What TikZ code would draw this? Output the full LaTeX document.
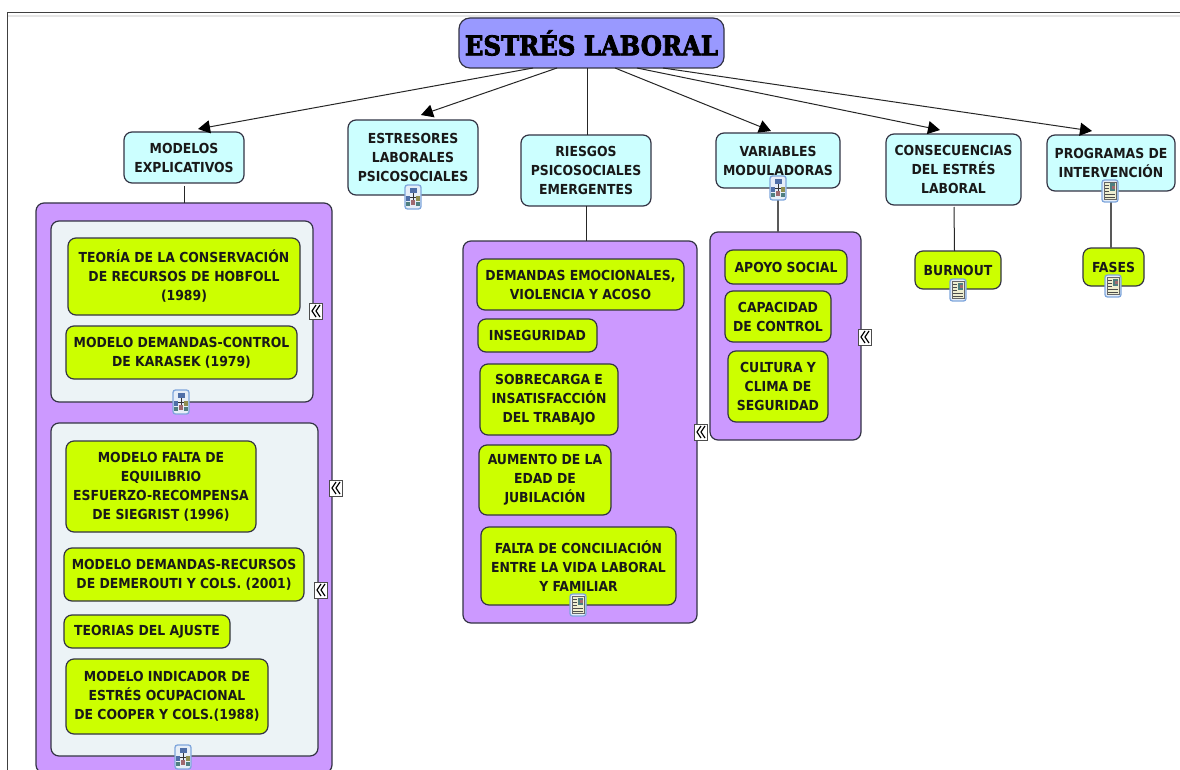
\documentclass[tikz,border=0pt]{standalone}
\usepackage{fontspec}
\setmainfont{DejaVu Sans Condensed}
\newfontfamily\titlefont[FakeBold=3]{DejaVu Serif Condensed Bold}
\usetikzlibrary{arrows.meta}
\definecolor{cgreen}{HTML}{CCFF00}
\definecolor{ccyan}{HTML}{CCFFFF}
\definecolor{cpurple}{HTML}{CC99FF}
\definecolor{ctitle}{HTML}{9999FF}
\definecolor{cgrey}{HTML}{ECF3F6}
\definecolor{cedge}{HTML}{333344}
\definecolor{iconedge}{HTML}{7FA6DC}
\definecolor{iconfill}{HTML}{E6EEF8}
\definecolor{iconblue}{HTML}{4F6FA8}
\definecolor{iconolive}{HTML}{8F8F50}
\definecolor{iconred}{HTML}{A06A70}
\definecolor{iconteal}{HTML}{4F7F80}
\definecolor{docpaper}{HTML}{EEEED0}
\tikzset{
  basebox/.style={draw=cedge,line width=1.2pt,rounded corners=8pt,align=center,inner sep=0pt,outer sep=0pt,
    font=\fontsize{13.8}{19}\selectfont\bfseries,text=black!90},
  topicbox/.style={basebox,fill=ccyan},
  leafbox/.style={basebox,fill=cgreen},
  panelbox/.style={basebox,fill=cpurple},
  greybox/.style={basebox,fill=cgrey},
  mainbox/.style={basebox,fill=ctitle,rounded corners=11pt,font=\fontsize{27}{30}\titlefont,text=black},
  link/.style={draw=black!85,line width=1pt},
  arrowlink/.style={link,-{Triangle[length=12pt,width=13pt,color=black]}},
  softlink/.style={draw=black!65,line width=1.1pt},
  hiericon/.pic={
    \draw[draw=iconedge,fill=iconfill,line width=1.3pt,rounded corners=2.5pt] (-8,-12) rectangle (8,12);
    \draw[black!80,line width=.6pt] (0,-4)--(0,6) (-5,0)--(5,0) (-5,0)--(-5,4) (5,0)--(5,4);
    \fill[iconblue] (-3.5,-9) rectangle (3.5,-4);
    \fill[iconblue] (-7,-1) rectangle (-3,4);
    \fill[iconolive] (3,-1) rectangle (7,4);
    \fill[iconred] (-2,3) rectangle (2,8);
    \fill[iconteal] (-7,5) rectangle (-3,9);
    \fill[iconteal] (3,5) rectangle (7,9);
  },
  docicon/.pic={
    \draw[draw=iconedge,fill=iconfill,line width=1.3pt,rounded corners=2.5pt] (-8,-11) rectangle (8,11);
    \draw[fill=docpaper,draw=black!60,line width=.6pt] (-6,-8.5) rectangle (6,8.5);
    \fill[iconteal] (0,-7.5) rectangle (5,0);
    \fill[iconred] (2,-5) rectangle (5,-2);
    \draw[black!70,line width=.9pt] (-5,-6)--(-1,-6) (-5,-3)--(-1,-3) (-5,0)--(-1,0) (-5,3)--(5,3) (-5,6)--(5,6);
  },
  foldicon/.pic={
    \draw[fill=white,draw=black!70,line width=.9pt] (-6.5,-8) rectangle (6.5,8);
    \draw[black,line width=1.2pt] (0,-6)--(-4,0)--(0,6) (4,-6)--(0,0)--(4,6);
  }
}
\newcommand{\putbox}[7]{% style,name,x0,y0,x1,y1,text
  \pgfmathsetmacro{\cxx}{(#3+#5)/2}\pgfmathsetmacro{\cyy}{(#4+#6)/2}
  \pgfmathsetmacro{\wdd}{#5-#3}\pgfmathsetmacro{\htt}{#6-#4}
  \node[#1,minimum width=\wdd pt,minimum height=\htt pt] (#2) at (\cxx,\cyy) {#7};
}
\begin{document}
\begin{tikzpicture}[x=1pt,y=-1pt]
\useasboundingbox (0,0) rectangle (1180,770);
\begin{scope}
\clip (0,0) rectangle (1180,770);
\fill[white] (0,0) rectangle (1180,770);
\coordinate (frameA) at (7,770);
\coordinate (frameB) at (7,13);
\coordinate (frameC) at (1180,13);
\draw[black!75,line width=1pt] (frameA) -- (frameB) -- (frameC);
\fill[black!10] (8,15) rectangle (1180,17);

\putbox{mainbox}{title}{459}{18}{724}{68}{ESTRÉS LABORAL}
\putbox{topicbox}{mod}{124}{132}{244}{183}{MODELOS\\EXPLICATIVOS}
\putbox{topicbox}{est}{348}{120}{478}{195}{ESTRESORES\\LABORALES\\PSICOSOCIALES}
\putbox{topicbox}{rie}{521}{135}{651}{206}{RIESGOS\\PSICOSOCIALES\\EMERGENTES}
\putbox{topicbox}{var}{716}{133}{840}{188}{VARIABLES\\MODULADORAS}
\putbox{topicbox}{con}{886}{134}{1021}{205}{CONSECUENCIAS\\DEL ESTRÉS\\LABORAL}
\putbox{topicbox}{pro}{1047}{135}{1175}{191}{PROGRAMAS DE\\INTERVENCIÓN}

\putbox{panelbox}{pa}{36}{203}{332}{773}{}
\putbox{panelbox}{pb}{463}{241}{697}{623}{}
\putbox{panelbox}{pc}{710}{232}{861}{440}{}
\putbox{greybox}{ga}{51}{221}{313}{402}{}
\putbox{greybox}{gb}{51}{423}{318}{756}{}

\putbox{leafbox}{a1}{68}{238}{300}{315}{TEORÍA DE LA CONSERVACIÓN\\DE RECURSOS DE HOBFOLL\\(1989)}
\putbox{leafbox}{a2}{66}{326}{297}{379}{MODELO DEMANDAS-CONTROL\\DE KARASEK (1979)}
\putbox{leafbox}{a3}{66}{441}{256}{532}{MODELO FALTA DE\\EQUILIBRIO\\ESFUERZO-RECOMPENSA\\DE SIEGRIST (1996)}
\putbox{leafbox}{a4}{64}{548}{304}{601}{MODELO DEMANDAS-RECURSOS\\DE DEMEROUTI Y COLS. (2001)}
\putbox{leafbox}{a5}{64}{615}{230}{648}{TEORIAS DEL AJUSTE}
\putbox{leafbox}{a6}{66}{659}{268}{734}{MODELO INDICADOR DE\\ESTRÉS OCUPACIONAL\\DE COOPER Y COLS.(1988)}

\putbox{leafbox}{b1}{477}{259}{684}{310}{DEMANDAS EMOCIONALES,\\VIOLENCIA Y ACOSO}
\putbox{leafbox}{b2}{478}{319}{597}{352}{INSEGURIDAD}
\putbox{leafbox}{b3}{480}{364}{618}{435}{SOBRECARGA E\\INSATISFACCIÓN\\DEL TRABAJO}
\putbox{leafbox}{b4}{479}{445}{611}{515}{AUMENTO DE LA\\EDAD DE\\JUBILACIÓN}
\putbox{leafbox}{b5}{481}{527}{676}{605}{FALTA DE CONCILIACIÓN\\ENTRE LA VIDA LABORAL\\Y FAMILIAR}

\putbox{leafbox}{c1}{725}{250}{847}{284}{APOYO SOCIAL}
\putbox{leafbox}{c2}{725}{291}{831}{342}{CAPACIDAD\\DE CONTROL}
\putbox{leafbox}{c3}{728}{351}{828}{422}{CULTURA Y\\CLIMA DE\\SEGURIDAD}

\putbox{leafbox}{bur}{915}{251}{1001}{289}{BURNOUT}
\putbox{leafbox}{fas}{1083}{248}{1144}{286}{FASES}

\draw[arrowlink] ([xshift=-58.5pt]title.south) -- ([xshift=14pt,yshift=3pt]mod.north);
\draw[arrowlink] ([xshift=-34.5pt]title.south) -- ([xshift=8pt,yshift=5pt]est.north);
\draw[link] ([xshift=-4.5pt]title.south) -- ([xshift=1pt]rie.north);
\draw[arrowlink] ([xshift=23.5pt]title.south) -- ([xshift=-7pt,yshift=2pt]var.north);
\draw[arrowlink] ([xshift=45.5pt]title.south) -- ([xshift=-13.5pt,yshift=4pt]con.north);
\draw[arrowlink] ([xshift=71.5pt]title.south) -- ([xshift=-19pt,yshift=4pt]pro.north);

\draw[link] ([yshift=-3pt]mod.south) -- (pa.north -| mod.south);
\draw[link] (rie.south) -- (pb.north -| rie.south);
\draw[softlink] (var.south) -- (pc.north -| var.south);
\draw[link] ([xshift=0.5pt,yshift=-2pt]con.south) -- ([xshift=-3.5pt]bur.north);
\draw[softlink] (pro.south) -- ([xshift=-2.5pt]fas.north);

\pic at (181,402) {hiericon};
\pic at (183,757) {hiericon};
\pic at (778,188) {hiericon};
\pic at (413,197) {hiericon};
\pic at (1110,191) {docicon};
\pic at (578,605) {docicon};
\pic at (958,290) {docicon};
\pic at (1113,286) {docicon};
\pic at (316,311) {foldicon};
\pic at (336,488) {foldicon};
\pic at (321,590) {foldicon};
\pic at (701,432) {foldicon};
\pic at (865,337) {foldicon};
\end{scope}
\end{tikzpicture}
\end{document}
